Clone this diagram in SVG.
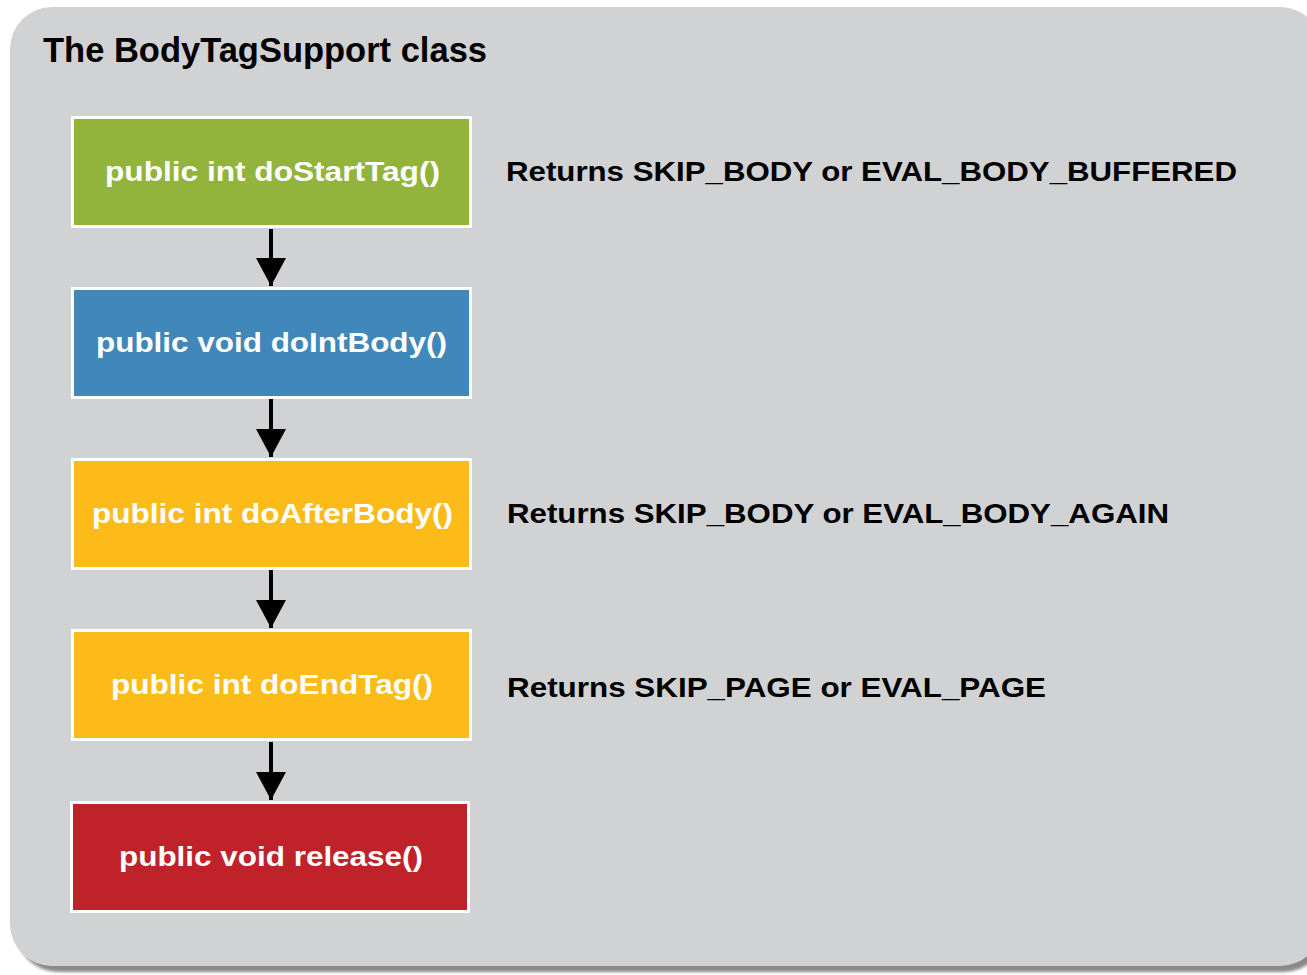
<svg xmlns="http://www.w3.org/2000/svg" width="1307" height="975" viewBox="0 0 1307 975">
  <style>
    .box { stroke: #ffffff; stroke-width: 3; }
    .lbl { font-family: "Liberation Sans", Arial, sans-serif; font-weight: bold; font-size: 28px; fill: #ffffff; text-anchor: middle; }
    .note { font-family: "Liberation Sans", Arial, sans-serif; font-weight: bold; font-size: 28.5px; fill: #000000; }
    .title { font-family: "Liberation Sans", Arial, sans-serif; font-weight: bold; font-size: 34.5px; fill: #000000; }
    .flow { stroke: #000000; stroke-width: 4; fill: none; }
  </style>
  <defs>
    <marker id="arrow" markerUnits="userSpaceOnUse" markerWidth="32" markerHeight="30" refX="28" refY="15" orient="auto">
      <path d="M0,0 L28,15 L0,30 Z" fill="#000000"/>
    </marker>
    <filter id="shadowBlur" x="-5%" y="-5%" width="110%" height="110%">
      <feGaussianBlur stdDeviation="1.5"/>
    </filter>
  </defs>

  <rect x="0" y="0" width="1307" height="975" fill="#ffffff"/>

  <!-- panel with drop shadow -->
  <rect x="16" y="14" width="1310" height="958" rx="42" ry="42" fill="#8a8a8a" filter="url(#shadowBlur)"/>
  <rect x="10" y="7" width="1312" height="959" rx="42" ry="42" fill="#d1d2d4"/>

  <text class="title" x="43" y="62" textLength="444" lengthAdjust="spacingAndGlyphs">The BodyTagSupport class</text>

  <!-- connectors -->
  <g id="connectors">
    <line class="flow" x1="271" y1="229" x2="271" y2="286" marker-end="url(#arrow)"/>
    <line class="flow" x1="271" y1="399" x2="271" y2="457" marker-end="url(#arrow)"/>
    <line class="flow" x1="271" y1="570" x2="271" y2="628" marker-end="url(#arrow)"/>
    <line class="flow" x1="271" y1="742" x2="271" y2="800" marker-end="url(#arrow)"/>
  </g>

  <g id="doStartTag">
    <rect class="box" x="72.5" y="117.5" width="398" height="109" fill="#92b43d"/>
    <text class="lbl" x="272.5" y="181" textLength="335" lengthAdjust="spacingAndGlyphs">public int doStartTag()</text>
  </g>
  <g id="doInitBody">
    <rect class="box" x="72.5" y="288.5" width="398" height="109" fill="#3f88b9"/>
    <text class="lbl" x="271.5" y="352" textLength="351" lengthAdjust="spacingAndGlyphs">public void doIntBody()</text>
  </g>
  <g id="doAfterBody">
    <rect class="box" x="72.5" y="459.5" width="398" height="109" fill="#fdbb19"/>
    <text class="lbl" x="272.5" y="523" textLength="361" lengthAdjust="spacingAndGlyphs">public int doAfterBody()</text>
  </g>
  <g id="doEndTag">
    <rect class="box" x="72.5" y="630.5" width="398" height="109" fill="#fdbb19"/>
    <text class="lbl" x="272" y="694" textLength="322" lengthAdjust="spacingAndGlyphs">public int doEndTag()</text>
  </g>
  <g id="release">
    <rect class="box" x="71.5" y="802.5" width="397" height="109" fill="#c0222a"/>
    <text class="lbl" x="271" y="866" textLength="304" lengthAdjust="spacingAndGlyphs">public void release()</text>
  </g>

  <g id="notes">
    <text class="note" x="506" y="181" textLength="731" lengthAdjust="spacingAndGlyphs">Returns SKIP_BODY or EVAL_BODY_BUFFERED</text>
    <text class="note" x="507" y="523" textLength="662" lengthAdjust="spacingAndGlyphs">Returns SKIP_BODY or EVAL_BODY_AGAIN</text>
    <text class="note" x="507" y="697" textLength="539" lengthAdjust="spacingAndGlyphs">Returns SKIP_PAGE or EVAL_PAGE</text>
  </g>
</svg>
